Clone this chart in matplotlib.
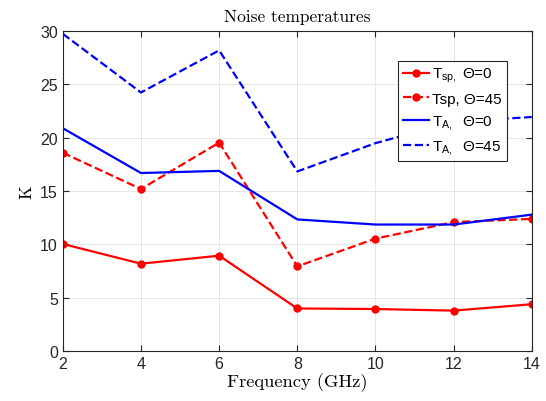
import matplotlib
matplotlib.use("Agg")
import matplotlib.pyplot as plt

freq = [2, 4, 6, 8, 10, 12, 14]
tsp_0 = [10.05, 8.2, 8.95, 4.0, 3.95, 3.8, 4.4]
tsp_45 = [18.6, 15.2, 19.55, 7.95, 10.55, 12.1, 12.4]
ta_0 = [20.9, 16.7, 16.9, 12.35, 11.87, 11.87, 12.8]
ta_45 = [29.75, 24.25, 28.2, 16.85, 19.5, 21.5, 21.95]

labels = [r'T$_{\mathrm{sp},}$ Θ=0', 'Tsp, Θ=45',
          r'T$_{\mathrm{A},}$  Θ=0', r'T$_{\mathrm{A},}$  Θ=45']
xticks = [2, 4, 6, 8, 10, 12, 14]
yticks = [0, 5, 10, 15, 20, 25, 30]

plt.rcParams['font.family'] = ['Liberation Sans', 'DejaVu Sans']
plt.rcParams['mathtext.fontset'] = 'custom'
plt.rcParams['mathtext.rm'] = 'Liberation Sans'
plt.rcParams['mathtext.it'] = 'Liberation Sans:italic'

fig = plt.figure(figsize=(5.46, 4.02), dpi=100)
ax = fig.add_axes([0.115, 0.124, 0.859, 0.796])

ax.plot(freq, tsp_0, '-', color='red', lw=1.6, marker='o', ms=5, label=labels[0])
ax.plot(freq, tsp_45, '--', color='red', lw=1.6, marker='o', ms=5, label=labels[1])
ax.plot(freq, ta_0, '-', color='blue', lw=1.6, label=labels[2])
ax.plot(freq, ta_45, '--', color='blue', lw=1.6, label=labels[3])

ax.set_xlim(2, 14)
ax.set_ylim(0, 30)
ax.set_xticks(xticks)
ax.set_yticks(yticks)
ax.grid(True, color='#e6e6e6', lw=0.7)
ax.set_axisbelow(True)
ax.tick_params(direction='in', top=True, right=True, labelsize=11.5,
               colors='#262626', length=4)
for s in ax.spines.values():
    s.set_color('#262626')
    s.set_linewidth(0.8)

ax.set_title('Noise temperatures', family='cmr10', fontsize=12.5, pad=7)
ax.set_xlabel('Frequency (GHz)', family='cmr10', fontsize=13.3, labelpad=1)
ax.set_ylabel('K', family='cmr10', fontsize=12.5, labelpad=4)

leg = ax.legend(loc='upper left', bbox_to_anchor=(0.714, 0.906), fontsize=11,
                frameon=True, fancybox=False, edgecolor='#262626', framealpha=1,
                handlelength=1.75, handletextpad=0.2, labelspacing=0.48,
                borderpad=0.32, borderaxespad=0)
leg.get_frame().set_linewidth(0.8)

fig.savefig('out.png', dpi=100)
